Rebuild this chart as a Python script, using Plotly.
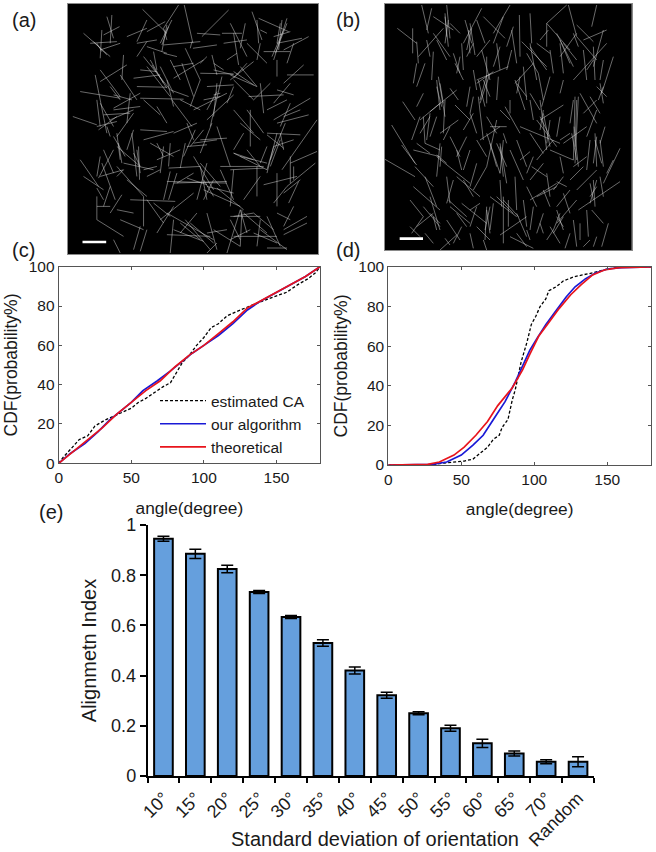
import plotly.graph_objects as go

W, H = 656, 852

# Fibres: (x0, y0, x1, y1), in each image's own pixel grid
fibers_a = [
(427,28,500,100),(535,15,490,85),(552,15,578,130),(685,30,605,110),(755,35,785,120),(775,55,865,95),
(320,50,340,115),(335,45,330,130),(250,100,330,170),(305,90,300,175),(310,105,358,80),(270,130,350,125),
(360,130,300,150),(440,60,410,125),(380,110,440,85),(495,65,440,95),(500,75,485,155),(515,60,480,130),
(490,135,600,125),(575,125,570,145),(578,145,650,135),(590,100,660,105),(665,100,725,100),(690,70,740,170),
(735,70,720,145),(670,130,740,120),(700,100,715,195),(860,55,820,180),(845,60,835,150),(870,95,820,110),
(925,110,850,150),(790,155,870,155),(780,130,770,180),(740,130,800,190),(905,115,830,130),(440,125,410,170),
(430,170,510,270),(460,155,470,210),(490,160,530,170),(545,190,580,290),(555,145,600,240),(610,180,520,235),
(635,165,650,225),(600,220,700,222),(640,210,700,225),(760,185,690,240),(690,225,770,260),(830,180,830,230),
(910,195,850,250),(940,225,860,225),(370,165,365,240),(380,195,300,245),(300,210,360,290),(285,225,320,400),
(240,275,360,295),(360,225,410,300),(340,325,420,280),(340,285,395,300),(410,260,500,262),(390,280,380,370),
(420,295,550,298),(500,240,520,320),(510,270,565,290),(515,300,575,380),(665,230,630,380),(580,330,680,280),
(640,350,650,250),(700,285,620,360),(760,300,700,240),(780,250,790,340),(745,290,850,285),(830,270,880,285),
(870,250,820,310),(930,295,820,360),(925,345,830,370),(700,330,760,400),(740,330,790,400),(840,380,870,310),
(218,350,290,375),(295,390,350,350),(320,380,330,410),(350,365,290,380),(400,340,350,410),(400,390,380,450),
(420,390,500,395),(430,420,520,395),(590,370,520,400),(585,390,550,470),(610,390,570,440),(635,370,600,460),
(600,420,680,415),(650,380,690,500),(730,400,700,450),(750,330,750,440),(800,400,900,405),(950,360,845,510),
(880,420,820,440),(855,370,810,480),(840,400,850,450),(800,405,850,445),(350,400,360,480),(350,440,420,500),
(395,400,410,530),(415,440,418,540),(300,470,290,530),(305,490,345,600),(340,450,295,535),(370,490,460,510),
(450,430,520,470),(490,440,480,520),(510,430,505,500),(505,505,600,500),(555,430,540,505),(580,470,640,570),
(620,490,590,600),(660,500,790,500),(700,460,800,510),(740,450,780,500),(770,500,770,590),(830,400,800,520),
(870,470,870,550),(950,455,870,490),(945,490,860,560),(250,530,310,570),(290,590,290,660),(290,565,310,600),
(365,585,330,640),(350,500,430,590),(390,600,525,605),(430,590,430,680),(500,545,680,550),(510,515,490,600),
(530,520,505,600),(600,500,620,600),(660,510,700,600),(780,530,730,600),(890,530,790,555),(830,520,830,620),
(895,545,865,610),(350,630,400,640),(290,620,330,620),(520,620,470,700),(440,600,490,670),(580,580,480,660),
(360,660,430,690),(290,660,370,710),(500,640,640,720),(610,570,720,620),(500,705,630,710),(555,660,630,750),
(590,640,540,700),(620,700,680,690),(720,630,680,760),(690,650,780,650),(730,640,800,700),(725,630,720,740),
(800,650,840,740),(780,660,770,740),(920,650,850,690),(920,670,850,705),(830,640,870,660),(700,710,830,710),
(800,745,860,745),(340,720,360,760),(420,680,400,750),(440,690,420,755),(520,660,510,760),(620,640,650,750),
(690,720,750,690),(650,730,620,760),(860,750,780,690),(760,700,830,730),
(455,195,500,265),(450,180,490,250),(480,200,520,280),(440,200,510,290),(840,70,830,130),(850,90,815,170),
(860,70,825,160),(490,85,500,120),(505,80,485,135),(290,130,305,155),(280,125,320,165),(700,215,760,255),
(720,200,770,260),(740,190,700,235),(640,285,660,280),(650,275,620,330),(355,430,365,490),(340,410,375,470),
(410,450,420,520),(400,460,420,500),(580,430,650,420),(560,440,620,435),(700,460,760,480),(720,470,800,490),
(690,510,790,505),(600,490,660,560),(610,540,640,590),(520,550,680,545),(560,535,620,555),(570,670,640,730),
(540,670,600,720),(700,650,760,640),(720,630,740,700),(690,660,720,720),(810,500,840,420),(820,440,800,510),
(240,480,295,560),(300,530,370,510),(330,560,310,620),(380,540,440,590),(460,610,510,650),(520,690,610,725),
(640,690,720,740),(760,640,820,690),(850,580,900,540),(820,610,860,560),(880,620,850,680),(650,565,730,630),
(700,510,690,620),(640,540,610,600),(430,510,470,500),(370,510,350,530),(310,450,340,520),(470,320,500,370),
(430,300,480,345),(340,330,420,320),(540,300,600,330),(610,300,660,290),(700,260,680,310),(810,250,760,300),
(800,330,860,300),(850,350,900,330),(720,370,780,420),(800,440,780,490),(880,500,880,540),(440,530,480,510),
(360,300,330,260),(300,310,340,380),(310,345,390,340),(330,360,400,330),(290,300,300,380),(520,200,580,190),
(600,190,620,170),(420,210,470,215),(400,235,480,225),(510,180,540,240),(680,180,710,160),(640,190,670,210),
(880,130,860,190),(780,90,800,100),(770,60,775,130),(410,130,470,120),(440,140,500,160),(600,240,570,320),
(620,260,700,255),(560,370,580,420),(470,430,490,470),(470,480,540,450),(580,520,530,550),(620,560,700,580),
]
fibers_b = [
(275,15,295,100),(305,25,290,90),(350,15,360,115),(345,50,355,140),(202,85,260,130),(248,85,248,160),
(260,125,265,190),(265,170,340,85),(310,100,360,170),(360,70,390,100),(310,50,370,90),(405,60,425,130),
(455,25,400,130),(420,70,435,165),(395,130,400,210),(465,130,440,60),(460,50,525,115),(540,15,490,100),
(520,50,490,130),(568,45,570,170),(550,80,530,140),(600,40,605,130),(545,90,560,190),(575,125,650,200),
(600,130,620,240),(630,120,655,90),(710,15,650,70),(715,15,740,110),(800,15,785,80),(650,70,720,150),
(650,70,650,140),(680,100,730,200),(740,100,690,170),(740,75,790,125),(820,90,790,200),(760,120,830,90),
(740,110,800,180),(830,130,730,240),(850,170,815,280),(790,140,795,240),(690,130,700,220),(310,155,305,240),
(285,190,260,260),(260,190,250,250),(375,190,400,240),(370,160,390,220),(455,150,480,240),(470,170,470,310),
(535,200,440,240),(480,220,450,310),(445,240,465,320),(505,230,500,300),(500,130,510,210),(555,250,610,190),
(555,240,585,330),(580,200,590,300),(625,220,640,300),(660,230,635,320),(700,240,690,280),(320,240,330,330),
(325,230,345,350),(345,300,340,400),(380,270,300,335),(360,265,385,300),(280,280,260,320),(218,305,255,360),
(330,310,270,360),(270,350,245,420),(430,290,420,340),(375,315,420,360),(420,340,440,400),(445,290,460,420),
(525,320,570,400),(540,300,540,340),(700,315,630,360),(735,290,730,480),(745,290,735,490),(730,300,720,370),
(630,300,650,450),(640,340,660,440),(750,280,800,370),(780,290,810,340),(800,330,770,410),(185,375,255,490),
(300,340,290,420),(320,350,300,410),(385,360,330,400),(280,350,285,430),(285,430,330,450),(570,380,690,430),
(480,380,530,380),(510,380,450,420),(520,400,530,430),(500,360,470,500),(470,400,510,520),(510,430,530,550),
(520,420,510,520),(620,360,680,440),(690,420,720,400),(770,380,700,430),(795,400,800,500),(825,380,810,430),
(810,420,820,500),(780,420,770,510),(870,445,820,550),(165,478,255,530),(215,435,260,495),(250,450,330,470),
(330,430,320,530),(380,450,395,510),(410,410,380,470),(320,470,420,550),(255,500,310,560),(285,530,320,620),
(660,450,730,480),(670,420,620,480),(610,470,590,520),(540,450,580,540),(440,490,420,560),(470,500,430,570),
(605,500,650,530),(640,490,600,540),(510,540,515,620),(555,530,560,630),(350,530,360,610),(380,530,450,590),
(370,540,350,610),(730,500,770,470),(800,510,740,570),(800,540,780,610),(790,540,795,620),(870,545,745,630),
(700,530,670,570),(680,545,710,560),(480,590,560,650),(470,620,465,720),(490,610,480,690),(520,590,520,730),
(535,600,535,680),(560,640,590,710),(600,600,680,550),(640,570,660,620),(240,600,280,650),(300,590,330,690),
(310,640,260,680),(280,620,330,680),(395,610,470,670),(355,600,410,650),(420,630,450,610),(740,600,680,670),
(680,630,700,690),(700,650,670,700),(770,630,775,710),(785,630,820,670),(835,670,815,740),(730,660,740,740),
(750,670,750,720),(630,670,640,700),(590,650,510,705),(540,710,610,745),(560,700,590,740),(330,750,380,705),
(345,715,360,735),(420,700,430,745),(460,720,470,750),(590,690,600,720),(670,690,650,720),(800,710,790,740),
(245,700,280,650),
(470,225,450,300),(460,240,480,290),(490,215,440,250),(560,250,590,290),(570,230,560,280),(345,40,350,110),
(355,60,345,130),(415,90,420,160),(425,85,410,150),(600,140,650,210),(590,160,625,220),(690,120,720,190),
(700,130,740,180),(730,100,745,140),(320,260,335,320),(330,250,340,310),(630,350,660,410),(640,330,630,390),
(660,360,650,430),(740,300,735,440),(732,380,745,500),(725,400,740,480),(795,420,815,490),(800,410,790,490),
(320,465,350,490),(335,440,330,500),(510,440,520,530),(500,430,530,500),(480,430,500,500),(780,550,790,600),
(800,560,780,590),(810,250,820,310),(820,260,805,300),(310,650,320,690),(300,640,330,670),(470,630,480,700),
(480,620,465,690),(520,600,565,650),(500,590,550,640),(680,650,700,680),(690,640,670,690),
(400,540,430,590),(360,620,420,670),(620,590,680,560),(590,560,620,620),(650,520,660,590),(700,580,720,640),
(720,570,680,620),(820,590,810,530),(850,480,830,520),(600,400,640,460),(560,420,590,500),(440,420,470,470),
(420,450,400,510),(270,400,300,350),(260,430,300,460),(340,420,360,380),(360,410,390,470),(400,390,430,340),
(470,350,500,400),(540,360,510,330),(600,300,610,360),(690,350,680,410),(760,340,800,300),(830,290,800,260),
(620,130,660,160),(660,150,670,220),(545,150,530,210),(510,140,490,200),(410,170,430,130),(440,170,480,120),
(320,120,350,180),(300,170,290,120),(390,170,380,220),(430,210,440,270),(420,260,410,320),(600,280,630,330),
(770,210,790,180),(760,150,770,240),(820,180,810,240),(250,560,330,630),(350,660,390,720),(440,680,480,720),
(580,600,590,680),(610,620,600,690),(640,640,620,700),(660,680,690,730),(720,700,705,745),(780,720,760,740),
(440,620,420,680),(240,680,270,710),(285,700,310,730),(395,680,370,730),(380,640,410,680),(600,455,570,480),
(690,470,700,520),(720,540,760,500),
]
scale_a = (247, 727, 318, 727)
scale_b = (209, 716, 279, 716)

# Panel (c)
c_est_x = [0,3,8,14,20,25,32,38,45,50,55,60,66,72,77,82,85,90,95,100,105,110,116,122,128,135,142,150,157,165,172,177,180]
c_est_y = [0,3,7,12,14,19,22,24,26,28,31,33,36,39,41,47,51,55,60,64,69,71,75,77,79,81,83,85,87,91,94,97,100]
c_alg_x = [0,8,18,27,35,42,50,58,68,77,85,92,100,110,120,130,138,150,160,170,180]
c_alg_y = [0,5,10,16,22,26,31,37,42,47,52,56,60,65,71,78,82,87,91,95,100]
c_the_x = [0,10,20,30,40,50,60,70,80,90,100,110,120,130,140,150,160,170,180]
c_the_y = [0,6,12,18,25,31,37,42,49,55,60,66,72,79,83,87,91,95,100]

# Panel (d)
d_est_x = [0,30,38,45,52,58,63,68,72,76,78,82,85,87,89,91,93,95,98,101,104,108,110,115,120,127,133,140,150,160,180]
d_est_y = [0,0.2,1,1.5,2,3,6,9,13,15,19,23,33,38,45,52,57,62,71,75,80,84,88,90,93,95,96,97,99,100,100]
d_alg_x = [0,30,40,50,58,65,72,80,87,92,97,102,108,114,122,128,135,142,150,160,180]
d_alg_y = [0,0.3,1.5,5,10,15,23,32,42,50,58,64,71,77,85,90,94,97,99,99.7,100]
d_the_x = [0,27,35,45,52,60,68,75,85,92,97,103,110,117,125,132,140,148,158,180]
d_the_y = [0,0.3,1.5,5,9,15,22,30,39,48,56,65,72,79,86,91,96,98.5,99.7,100]

# Panel (e)
e_categories = ["10°","15°","20°","25°","30°","35°","40°","45°","50°","55°","60°","65°","70°","Random"]
e_values = [0.945,0.885,0.825,0.733,0.633,0.53,0.42,0.322,0.25,0.19,0.13,0.09,0.057,0.057]
e_errors = [0.01,0.018,0.015,0.006,0.006,0.013,0.014,0.012,0.006,0.012,0.016,0.01,0.008,0.02]

FONT = "Liberation Sans, Arial, sans-serif"
TXT = "#1a1a1a"

def dx(a, b):
    return [a / W, b / W]
def dy(top, bottom):
    return [1 - bottom / H, 1 - top / H]

fig = go.Figure()

def add_fibers(segs, scale, xa, ya):
    for s in segs:
        fig.add_trace(go.Scatter(x=[s[0], s[2]], y=[s[1], s[3]], mode="lines", xaxis=xa, yaxis=ya,
                                 line=dict(color="rgba(215,215,215,0.55)", width=0.9),
                                 showlegend=False, hoverinfo="skip"))
    fig.add_trace(go.Scatter(x=[scale[0], scale[2]], y=[scale[1], scale[3]], mode="lines", xaxis=xa, yaxis=ya,
                             line=dict(color="white", width=2.6), showlegend=False, hoverinfo="skip"))

add_fibers(fibers_a, scale_a, "x", "y")
add_fibers(fibers_b, scale_b, "x2", "y2")

def add_cdf(ex, ey, ax, ay, tx, ty, xa, ya, legend):
    fig.add_trace(go.Scatter(x=ex, y=ey, mode="lines", name="estimated CA", xaxis=xa, yaxis=ya, showlegend=legend,
                             line=dict(color="black", width=1.3, dash="3px,2px")))
    fig.add_trace(go.Scatter(x=ax, y=ay, mode="lines", name="our algorithm", xaxis=xa, yaxis=ya, showlegend=legend,
                             line=dict(color="#1a1ad6", width=1.7)))
    fig.add_trace(go.Scatter(x=tx, y=ty, mode="lines", name="theoretical", xaxis=xa, yaxis=ya, showlegend=legend,
                             line=dict(color="#e8141c", width=1.7)))

add_cdf(c_est_x, c_est_y, c_alg_x, c_alg_y, c_the_x, c_the_y, "x3", "y3", True)
add_cdf(d_est_x, d_est_y, d_alg_x, d_alg_y, d_the_x, d_the_y, "x4", "y4", False)

fig.add_trace(go.Bar(x=e_categories, y=e_values, xaxis="x5", yaxis="y5", width=0.585, showlegend=False,
                     marker=dict(color="#659fdd", line=dict(color="black", width=2)),
                     error_y=dict(type="data", array=e_errors, color="black", thickness=1.5, width=6)))

img_axis = dict(showticklabels=False, ticks="", showgrid=False, zeroline=False, showline=True,
                linecolor="#8a8a8a", linewidth=1, mirror=True, automargin=False)
cdf_axis = dict(ticks="inside", ticklen=3, tickcolor="#555", tickwidth=1, showgrid=False, zeroline=False,
                showline=True, linecolor="#555", linewidth=1, mirror="ticks", automargin=False,
                tickfont=dict(size=15.5, color=TXT, family=FONT))
cdf_x = dict(cdf_axis, range=[0, 180], tickvals=[0, 50, 100, 150],
             title=dict(text="angle(degree)", font=dict(size=17.3, color=TXT, family=FONT), standoff=16))
cdf_y = dict(cdf_axis, range=[0, 100], tickvals=[0, 20, 40, 60, 80, 100],
             title=dict(text="CDF(probability%)", font=dict(size=17.5, color=TXT, family=FONT), standoff=6))

fig.update_layout(
    width=W, height=H, margin=dict(l=0, r=0, t=0, b=0), autosize=False,
    paper_bgcolor="white", plot_bgcolor="white",
    font=dict(family=FONT, color=TXT),
    xaxis=dict(img_axis, domain=dx(67.5, 318), range=[202, 953], anchor="y"),
    yaxis=dict(img_axis, domain=dy(4, 254), range=[763, 12], anchor="x"),
    xaxis2=dict(img_axis, domain=dx(385, 631.7), range=[165, 905], anchor="y2"),
    yaxis2=dict(img_axis, domain=dy(4, 250), range=[750, 12], anchor="x2"),
    xaxis3=dict(cdf_x, domain=dx(58.7, 320), anchor="y3"),
    yaxis3=dict(cdf_y, domain=dy(266.7, 463.3), anchor="x3"),
    xaxis4=dict(cdf_x, domain=dx(388.3, 651), anchor="y4"),
    yaxis4=dict(cdf_y, domain=dy(267, 465), anchor="x4"),
    xaxis5=dict(domain=dx(147.5, 594), range=[-0.5, 13.5], type="category", tickson="boundaries", anchor="y5",
                categoryorder="array", categoryarray=e_categories, automargin=False,
                ticks="outside", ticklen=5, tickwidth=1.5, tickcolor="black", tickangle=-45, ticklabelstandoff=3,
                showline=True, linecolor="black", linewidth=1.5, showgrid=False, zeroline=False,
                tickfont=dict(size=18, color=TXT, family=FONT)),
    yaxis5=dict(domain=dy(525, 776), range=[0, 1], tickvals=[0, 0.2, 0.4, 0.6, 0.8, 1], anchor="x5",
                ticktext=["0", "0.2", "0.4", "0.6", "0.8", "1"], automargin=False,
                ticks="outside", ticklen=6, tickwidth=1.5, tickcolor="black",
                showline=True, linecolor="black", linewidth=1.5, showgrid=False, zeroline=False,
                tickfont=dict(size=18, color=TXT, family=FONT),
                title=dict(text="Alignmetn Index", font=dict(size=20, color=TXT, family=FONT), standoff=9)),
    legend=dict(x=155 / W, y=1 - 384 / H, xanchor="left", yanchor="top", bgcolor="rgba(0,0,0,0)",
                font=dict(size=15.5, color=TXT, family=FONT), itemwidth=46, tracegroupgap=0),
    shapes=[
        dict(type="rect", xref="x domain", yref="y domain", x0=0, x1=1, y0=0, y1=1, fillcolor="black", line_width=0, layer="below"),
        dict(type="rect", xref="x2 domain", yref="y2 domain", x0=0, x1=1, y0=0, y1=1, fillcolor="black", line_width=0, layer="below"),
    ],
)

def label(text, px, py, size=20):
    fig.add_annotation(text=text, x=px / W, y=1 - py / H, xref="paper", yref="paper", showarrow=False,
                       xanchor="left", yanchor="middle", font=dict(size=size, color=TXT, family=FONT))

label("(a)", 10, 20)
label("(b)", 334, 20)
label("(c)", 10, 250)
label("(d)", 334, 250)
label("(e)", 37, 512)
fig.add_annotation(text="Standard deviation of orientation", x=375 / W, y=1 - 839 / H, xref="paper", yref="paper",
                   showarrow=False, xanchor="center", yanchor="middle", font=dict(size=20, color=TXT, family=FONT))

fig.write_html("out.html", post_script="document.body.style.margin='0';", config=dict(displayModeBar=False))
